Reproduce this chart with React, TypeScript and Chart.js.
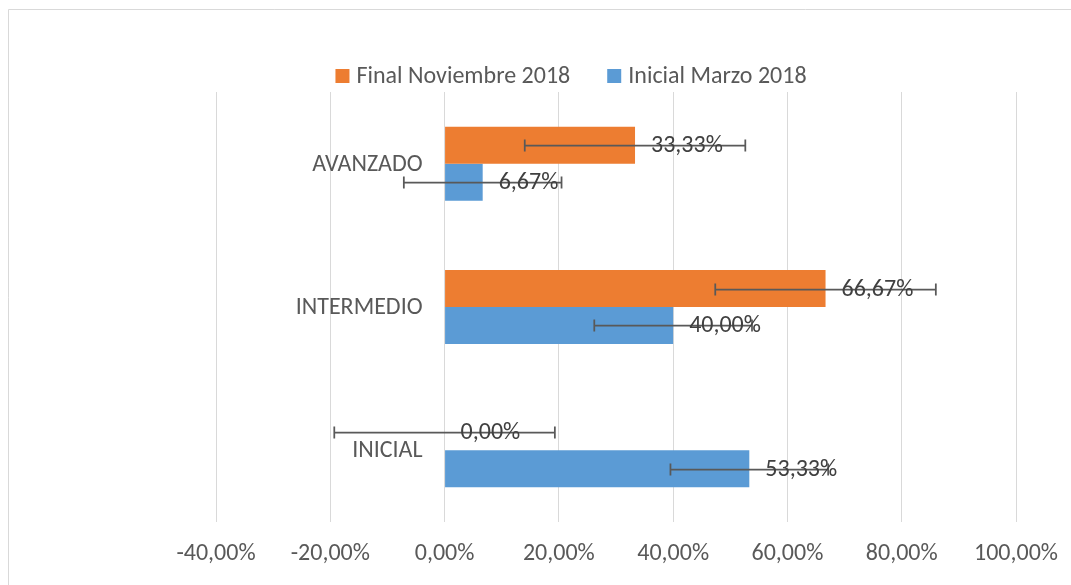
import React, { useEffect, useRef } from 'react';
import { Chart, registerables } from 'chart.js';

Chart.register(...registerables);

// ---- data ----
const categories = ['AVANZADO', 'INTERMEDIO', 'INICIAL'];
const seriesNames = ['Final Noviembre 2018', 'Inicial Marzo 2018'];
const finalValues = [33.33, 66.67, 0];
const inicialValues = [6.67, 40.0, 53.33];
const finalErrors = [19.3, 19.3, 19.3];
const inicialErrors = [13.8, 13.8, 13.8];
const xMin = -40;
const xMax = 100;
const xStep = 20;

// ---- styles ----
const W = 1063;
const H = 577;
const FONT = 'Carlito, Lato, "Open Sans", sans-serif';
const FONT_SIZE = 24;
const ORANGE = '#ED7D31';
const BLUE = '#5B9BD5';
const GRID = '#D9D9D9';
const AXIS_TEXT = '#595959';
const LABEL_TEXT = '#404040';
const ERR_COLOR = '#595959';

const fmt = (v: number) => v.toFixed(2).replace('.', ',') + '%';

const errorsByDataset = [finalErrors, inicialErrors];

const framePlugin = {
  id: 'frame',
  beforeDraw(chart: any) {
    const ctx = chart.ctx;
    ctx.save();
    ctx.fillStyle = '#fff';
    ctx.fillRect(0, 0, chart.width, chart.height);
    ctx.strokeStyle = GRID;
    ctx.lineWidth = 1;
    ctx.beginPath();
    ctx.moveTo(0.5, chart.height);
    ctx.lineTo(0.5, 1.5);
    ctx.lineTo(chart.width, 1.5);
    ctx.stroke();
    ctx.restore();
  },
};

const barExtrasPlugin = {
  id: 'barExtras',
  afterDatasetsDraw(chart: any) {
    const ctx = chart.ctx;
    const xs = chart.scales.x;
    ctx.save();
    // error bars
    chart.data.datasets.forEach((ds: any, di: number) => {
      const meta = chart.getDatasetMeta(di);
      meta.data.forEach((el: any, i: number) => {
        const v = ds.data[i];
        const e = errorsByDataset[di][i];
        const x1 = xs.getPixelForValue(v - e);
        const x2 = xs.getPixelForValue(v + e);
        const y = Math.round(el.y) + 0.5;
        ctx.strokeStyle = ERR_COLOR;
        ctx.lineWidth = 1.75;
        ctx.beginPath();
        ctx.moveTo(x1, y);
        ctx.lineTo(x2, y);
        ctx.moveTo(x1, y - 6);
        ctx.lineTo(x1, y + 6);
        ctx.moveTo(x2, y - 6);
        ctx.lineTo(x2, y + 6);
        ctx.stroke();
      });
    });
    // data labels
    ctx.fillStyle = LABEL_TEXT;
    ctx.font = `${FONT_SIZE}px ${FONT}`;
    ctx.textAlign = 'left';
    ctx.textBaseline = 'middle';
    chart.data.datasets.forEach((ds: any, di: number) => {
      const meta = chart.getDatasetMeta(di);
      meta.data.forEach((el: any, i: number) => {
        ctx.fillText(fmt(ds.data[i]), el.x + 16, el.y + 1);
      });
    });
    ctx.restore();
  },
};

const textPlugin = {
  id: 'texts',
  afterDraw(chart: any) {
    const ctx = chart.ctx;
    const xs = chart.scales.x;
    const ys = chart.scales.y;
    ctx.save();
    ctx.font = `${FONT_SIZE}px ${FONT}`;
    ctx.fillStyle = AXIS_TEXT;
    // x tick labels
    ctx.textAlign = 'center';
    ctx.textBaseline = 'middle';
    xs.ticks.forEach((t: any) => {
      ctx.fillText(fmt(t.value), xs.getPixelForValue(t.value), 546);
    });
    // category labels next to the zero line
    ctx.textAlign = 'right';
    chart.data.labels.forEach((lab: string, i: number) => {
      ctx.fillText(lab, xs.getPixelForValue(0) - 22, ys.getPixelForValue(i) + 1);
    });
    // legend
    const box = 14;
    const gapBoxText = 7;
    const gapItems = 37;
    const items = chart.data.datasets.map((ds: any) => ({
      label: ds.label,
      color: ds.backgroundColor,
      w: ctx.measureText(ds.label).width,
    }));
    const total = items.reduce((s: number, it: any) => s + box + gapBoxText + it.w, 0) + gapItems * (items.length - 1);
    let x = 563 - total / 2;
    const cy = 68;
    ctx.textAlign = 'left';
    items.forEach((it: any) => {
      ctx.fillStyle = it.color;
      ctx.fillRect(x, cy - box / 2, box, box);
      x += box + gapBoxText;
      ctx.fillStyle = AXIS_TEXT;
      ctx.fillText(it.label, x, cy + 1);
      x += it.w + gapItems;
    });
    ctx.restore();
  },
};

export default function App() {
  const ref = useRef<HTMLCanvasElement | null>(null);
  useEffect(() => {
    if (!ref.current) return;
    const chart = new Chart(ref.current, {
      type: 'bar',
      data: {
        labels: categories,
        datasets: [
          { label: seriesNames[0], data: finalValues, backgroundColor: ORANGE, borderWidth: 0 },
          { label: seriesNames[1], data: inicialValues, backgroundColor: BLUE, borderWidth: 0 },
        ],
      },
      options: {
        indexAxis: 'y',
        responsive: false,
        maintainAspectRatio: false,
        animation: false,
        devicePixelRatio: 1,
        datasets: { bar: { categoryPercentage: 0.516, barPercentage: 1 } },
        layout: { padding: { left: 208, right: W - 1008, top: 84, bottom: H - 514 } },
        plugins: { legend: { display: false }, tooltip: { enabled: false }, title: { display: false } },
        scales: {
          x: {
            min: xMin,
            max: xMax,
            ticks: { stepSize: xStep, display: false },
            grid: { color: GRID, lineWidth: 1, drawTicks: false },
            border: { display: false },
          },
          y: { display: false },
        },
      },
      plugins: [framePlugin, barExtrasPlugin, textPlugin],
    });
    return () => chart.destroy();
  }, []);
  return (
    <div style={{ position: 'fixed', left: 8, top: 8, width: W, height: H, overflow: 'hidden' }}>
      <canvas ref={ref} width={W} height={H} style={{ display: 'block', width: W, height: H }} />
    </div>
  );
}
